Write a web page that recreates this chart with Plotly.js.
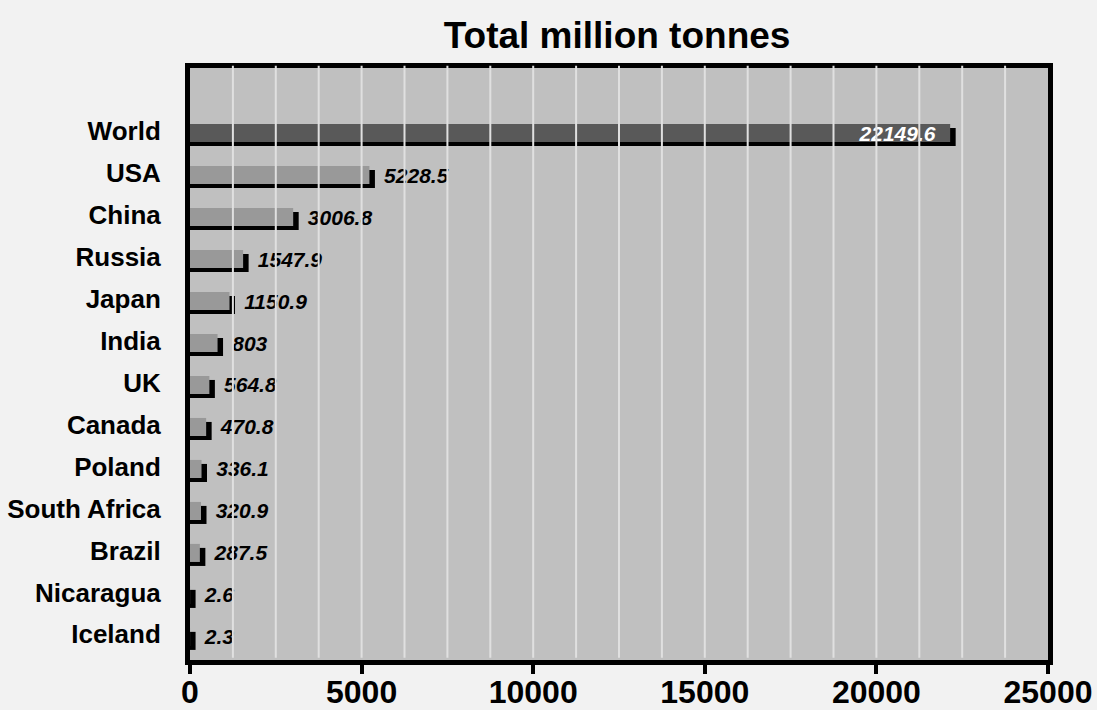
<!DOCTYPE html>
<html>
<head>
<meta charset="utf-8">
<script src="https://cdn.plot.ly/plotly-3.0.1.min.js"></script>
<style>html,body{margin:0;padding:0;background:#f2f2f2;}#chart{width:1097px;height:710px;}</style>
</head>
<body>
<div id="chart"></div>
<script>
const categories = ["World","USA","China","Russia","Japan","India","UK","Canada","Poland","South Africa","Brazil","Nicaragua","Iceland"];
const values = [22149.6, 5228.5, 3006.8, 1547.9, 1150.9, 803, 564.8, 470.8, 336.1, 320.9, 287.5, 2.6, 2.3];
const barColors = ["#595959","#999999","#999999","#999999","#999999","#999999","#999999","#999999","#999999","#999999","#999999","#999999","#999999"];
const gridTicks = [1250,2500,3750,5000,6250,7500,8750,10000,11250,12500,13750,15000,16250,17500,18750,20000,21250,22500,23750];
const xTicks = [0,5000,10000,15000,20000,25000];

const NB = "\u00a0";
const SHADOW_EXTRA = 160;
const W = 0.43;
const DROP = 0.06;
const SHIFT = 0.095;
const FONT = "Liberation Sans, Arial, sans-serif";

const shadow = {
  type: "bar", orientation: "h",
  y: categories, x: values.map(v => v + SHADOW_EXTRA),
  width: W, offset: -W/2 + DROP + SHIFT,
  marker: {color: "#000000"},
  hoverinfo: "skip", showlegend: false
};
const bars = {
  type: "bar", orientation: "h",
  y: categories, x: values,
  width: W, offset: -W/2 + DROP,
  marker: {color: barColors},
  text: values.map((v,i) => i === 0 ? String(v) + NB + NB : NB + NB + String(v)),
  textposition: values.map((v,i) => i === 0 ? "inside" : "outside"),
  insidetextanchor: "end",
  constraintext: "none",
  cliponaxis: false,
  textfont: {family: FONT, size: 21, weight: "bold", style: "italic"},
  insidetextfont: {color: "#ffffff", family: FONT, size: 21, weight: "bold", style: "italic"},
  outsidetextfont: {color: "#000000", family: FONT, size: 21, weight: "bold", style: "italic"},
  hoverinfo: "skip", showlegend: false
};

const shapes = gridTicks.map(t => ({
  type: "line", xref: "x", yref: "paper", x0: t, x1: t, y0: 0.004, y1: 1.004,
  line: {color: "#e0e0e0", width: 2}, layer: "above"
}));

const layout = {
  width: 1097, height: 710,
  paper_bgcolor: "#f2f2f2", plot_bgcolor: "#c0c0c0",
  margin: {l: 190, r: 49, t: 68, b: 50},
  barmode: "overlay",
  showlegend: false,
  hovermode: false,
  title: {text: "Total million tonnes", x: 0.5625, xanchor: "center", y: 0.951, yanchor: "middle",
          font: {family: FONT, size: 37, weight: "bold", color: "#000000"}},
  xaxis: {
    range: [0, 25000], tickvals: xTicks, ticktext: xTicks.map(String),
    showgrid: false, zeroline: false,
    showline: true, linecolor: "#000000", linewidth: 5, mirror: true,
    ticks: "outside", ticklen: 9, tickwidth: 4, tickcolor: "#000000",
    ticklabelstandoff: -9,
    tickfont: {family: FONT, size: 32, weight: "bold", color: "#000000"}
  },
  yaxis: {
    type: "category", categoryorder: "array", categoryarray: categories,
    range: [12.55 + DROP, -1.55 + DROP],
    showgrid: false, zeroline: false,
    showline: true, linecolor: "#000000", linewidth: 5, mirror: true,
    ticks: "", ticklabelstandoff: 19,
    tickfont: {family: FONT, size: 26, weight: "bold", color: "#000000"}
  },
  shapes: shapes
};

Plotly.newPlot("chart", [shadow, bars], layout, {displayModeBar: false, staticPlot: true});
</script>
</body>
</html>
